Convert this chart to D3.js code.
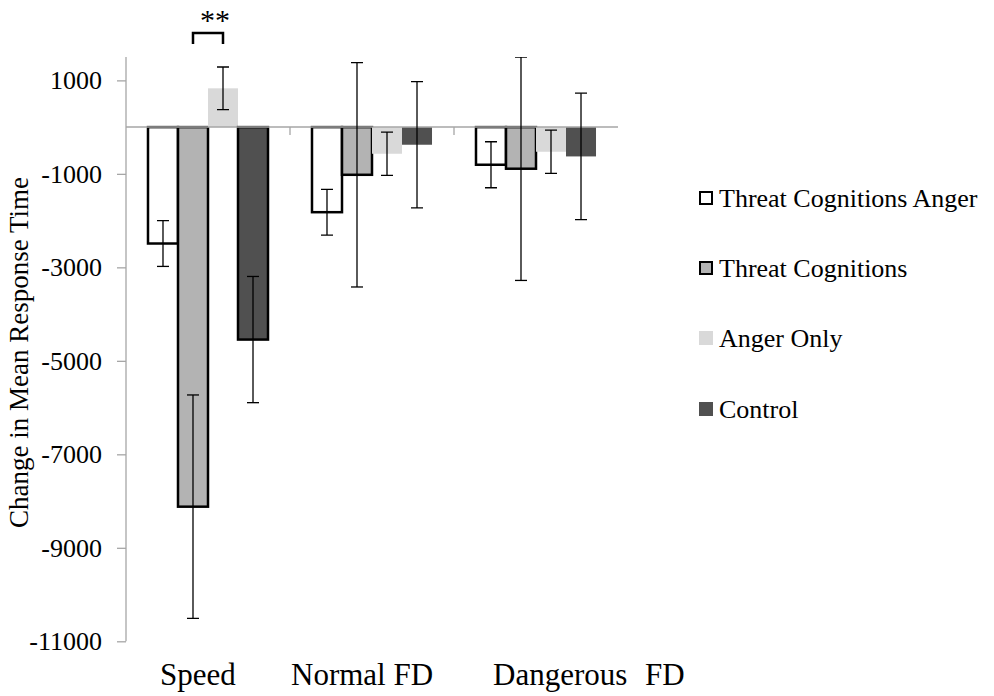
<!DOCTYPE html>
<html>
<head>
<meta charset="utf-8">
<script src="https://cdn.jsdelivr.net/npm/d3@7"></script>
<style>
  html, body { margin: 0; padding: 0; background: #fff; }
  svg { display: block; }
  svg text { font-family: "Liberation Serif", "Times New Roman", serif; }
</style>
</head>
<body>
<svg id="chart" width="994" height="696"></svg>
<script>
// Conditions on the x axis
const categories = ["Speed", "Normal FD", "Dangerous FD"];
// Groups (legend order)
const series = ["Threat Cognitions Anger", "Threat Cognitions", "Anger Only", "Control"];
// Mean change in response time, one array per group (Speed, Normal FD, Dangerous FD)
const threatAnger   = [-2490, -1820, -805];
const threatOnly    = [-8120, -1020, -890];
const angerOnly     = [830, -570, -527];
const control       = [-4545, -377, -627];
// Standard errors for the same cells
const threatAngerErr = [490, 490, 492];
const threatOnlyErr  = [2390, 2400, 2390];
const angerOnlyErr   = [456, 463, 463];
const controlErr     = [1350, 1351, 1353];
// Y axis ticks
const yTicks = [1000, -1000, -3000, -5000, -7000, -9000, -11000];
const yTitle = "Change in Mean Response Time";
const sigLabel = "**";

const values = [threatAnger, threatOnly, angerOnly, control];
const errors = [threatAngerErr, threatOnlyErr, angerOnlyErr, controlErr];

const rows = [];
categories.forEach((c, ci) => {
  series.forEach((s, si) => {
    rows.push({ category: c, series: s, value: values[si][ci], err: errors[si][ci] });
  });
});

const fills = {
  "Threat Cognitions Anger": "#ffffff",
  "Threat Cognitions": "#b3b3b3",
  "Anger Only": "#d9d9d9",
  "Control": "#505050"
};
const outlined = s => s === "Threat Cognitions Anger" || s === "Threat Cognitions";
const serif = "'Liberation Serif', 'Times New Roman', serif";

const svg = d3.select("#chart");
const plot = { left: 126, right: 618, top: 57, bottom: 641.3 };

const x0 = d3.scaleBand().domain(categories).range([plot.left, plot.right]).padding(0);
const x1 = d3.scaleBand().domain(series).range([0, x0.bandwidth()])
  .paddingInner(0).paddingOuter(0.733);
const y = d3.scaleLinear().domain([-11000, 1500]).range([plot.bottom, plot.top]);

const axisGrey = "#a6a6a6";

// Y axis (plain hyphen for negatives)
const yAxis = svg.append("g")
  .attr("transform", `translate(${plot.left},0)`)
  .call(d3.axisLeft(y).tickValues(yTicks).tickSize(9).tickPadding(15).tickFormat(d => String(d)));
yAxis.select(".domain").remove();
yAxis.selectAll(".tick line").attr("stroke", axisGrey).attr("stroke-width", 1.3);
yAxis.selectAll(".tick text").attr("font-size", 26).attr("font-family", serif).attr("fill", "#000");
svg.append("line")
  .attr("x1", plot.left).attr("x2", plot.left)
  .attr("y1", y(1500)).attr("y2", y(-11000))
  .attr("stroke", axisGrey).attr("stroke-width", 1.3);

// Axis title
svg.append("text")
  .attr("transform", `translate(28,${(177 + 528) / 2}) rotate(-90)`)
  .attr("text-anchor", "middle")
  .attr("font-size", 27)
  .attr("font-family", serif)
  .attr("fill", "#000")
  .text(yTitle);

// Clip for error bars that run past the plot top
svg.append("defs").append("clipPath").attr("id", "plotClip")
  .append("rect").attr("x", plot.left).attr("y", plot.top)
  .attr("width", plot.right - plot.left).attr("height", plot.bottom - plot.top);

// Bars
const barG = svg.append("g");
barG.selectAll("rect").data(rows).join("rect")
  .attr("x", d => x0(d.category) + x1(d.series))
  .attr("width", x1.bandwidth())
  .attr("y", d => y(Math.max(0, d.value)))
  .attr("height", d => Math.abs(y(d.value) - y(0)))
  .attr("fill", d => fills[d.series])
  .attr("stroke", d => (outlined(d.series) || (d.series === "Control" && d.category === "Speed")) ? "#000" : "none")
  .attr("stroke-width", 2.5);

// Zero line and category ticks
svg.append("line")
  .attr("x1", plot.left).attr("x2", plot.right)
  .attr("y1", y(0)).attr("y2", y(0))
  .attr("stroke", axisGrey).attr("stroke-width", 1.5);
svg.append("g").selectAll("line").data(categories.slice(1)).join("line")
  .attr("x1", d => x0(d)).attr("x2", d => x0(d))
  .attr("y1", y(0)).attr("y2", y(0) + 8)
  .attr("stroke", axisGrey).attr("stroke-width", 1.3);

// Error bars
const errG = svg.append("g").attr("clip-path", "url(#plotClip)")
  .attr("stroke", "#000").attr("stroke-width", 1.3);
const capW = 6;
rows.forEach(d => {
  const cx = x0(d.category) + x1(d.series) + x1.bandwidth() / 2;
  const yt = y(d.value + d.err), yb = y(d.value - d.err);
  errG.append("line").attr("x1", cx).attr("x2", cx).attr("y1", yt).attr("y2", yb);
  errG.append("line").attr("x1", cx - capW).attr("x2", cx + capW).attr("y1", yt).attr("y2", yt);
  errG.append("line").attr("x1", cx - capW).attr("x2", cx + capW).attr("y1", yb).attr("y2", yb);
});

// Significance bracket between Threat Cognitions and Anger Only on Speed
const bxA = x0("Speed") + x1("Threat Cognitions") + x1.bandwidth() / 2;
const bxB = x0("Speed") + x1("Anger Only") + x1.bandwidth() / 2;
const bTop = 33, bLeg = 44;
svg.append("path")
  .attr("d", `M${bxA},${bLeg}V${bTop}H${bxB}V${bLeg}`)
  .attr("fill", "none").attr("stroke", "#000").attr("stroke-width", 2.5);
svg.append("text")
  .attr("x", (bxA + bxB) / 2 + 7).attr("y", 30)
  .attr("text-anchor", "middle").attr("font-size", 30).attr("font-family", serif).attr("fill", "#000")
  .text(sigLabel);

// Category labels under the plot
const labelStart = { "Speed": 160, "Normal FD": 291, "Dangerous FD": 493 };
svg.append("g").selectAll("text").data(categories).join("text")
  .attr("x", d => labelStart[d]).attr("y", 685)
  .attr("font-size", 31).attr("font-family", serif).attr("fill", "#000")
  .attr("word-spacing", d => d === "Dangerous FD" ? 10 : 0)
  .text(d => d);

// Legend
const legend = svg.append("g").attr("transform", "translate(699,0)");
const legendRowY = [198, 268, 338, 409];
series.forEach((s, i) => {
  const g = legend.append("g").attr("transform", `translate(0,${legendRowY[i]})`);
  g.append("rect")
    .attr("x", outlined(s) ? 1 : 0).attr("y", outlined(s) ? -6 : -7)
    .attr("width", outlined(s) ? 12 : 14).attr("height", outlined(s) ? 12 : 14)
    .attr("fill", fills[s])
    .attr("stroke", outlined(s) ? "#000" : "none").attr("stroke-width", 2);
  g.append("text").attr("x", 20).attr("y", 9)
    .attr("font-size", 26).attr("font-family", serif).attr("fill", "#000").text(s);
});
</script>
</body>
</html>
